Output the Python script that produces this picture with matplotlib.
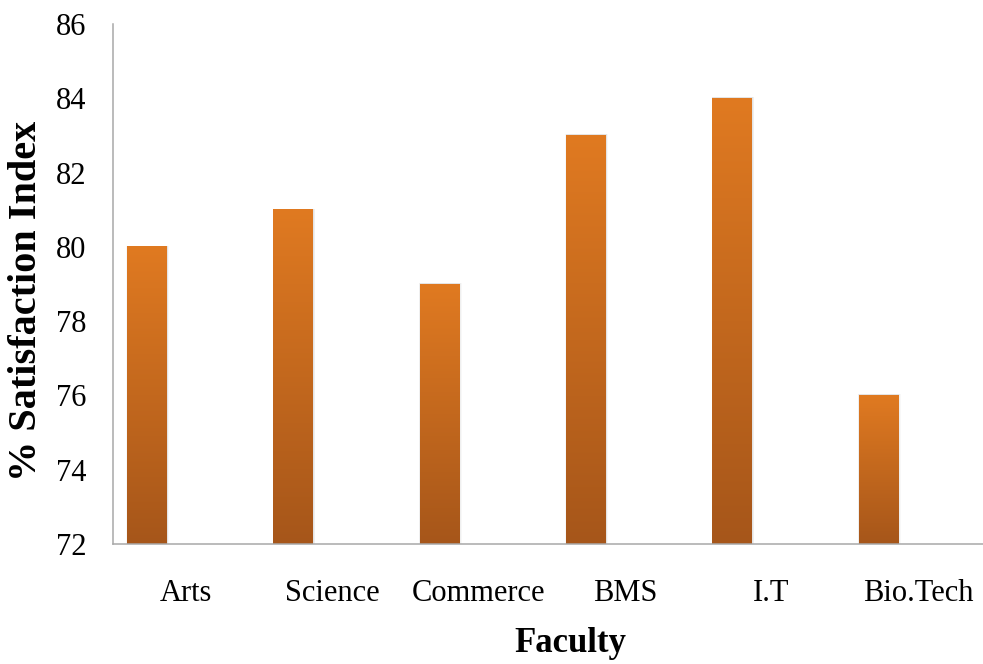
import matplotlib.pyplot as plt
import numpy as np
from matplotlib.colors import LinearSegmentedColormap

# ===================== 数据 =====================
faculties = ["Arts", "Science", "Commerce", "BMS", "I.T", "Bio.Tech"]
satisfaction = [80, 81, 79, 83, 84, 76]
y_ticks = [72, 74, 76, 78, 80, 82, 84, 86]
# ===============================================

plt.rcParams["font.family"] = ["Liberation Serif", "DejaVu Serif"]

fig = plt.figure(figsize=(9.83, 6.64), dpi=100)
ax = fig.add_axes([113 / 983, 120 / 664, 878 / 983, 520 / 664])

ymin, ymax = y_ticks[0], y_ticks[-1]

# 渐变色：顶部亮橙，底部深橙
grad_cmap = LinearSegmentedColormap.from_list("orange_grad", ["#A6561A", "#E07A21"])
gradient = np.linspace(0, 1, 256).reshape(-1, 1)

bar_w = 0.273
offset = -0.267
for i, v in enumerate(satisfaction):
    x0 = i + offset - bar_w / 2
    x1 = x0 + bar_w
    # 柔和阴影
    for k, a in zip([0.02, 0.012, 0.006], [0.06, 0.08, 0.10]):
        ax.add_patch(plt.Rectangle((x0 - k * 0.3, ymin), bar_w + k, v - ymin + 0.03,
                                   facecolor="#888888", edgecolor="none", alpha=a, zorder=1))
    ax.imshow(gradient, extent=[x0, x1, ymin, v], origin="lower",
              cmap=grad_cmap, aspect="auto", zorder=2, interpolation="bicubic")

ax.set_xlim(-0.5, len(faculties) - 0.5)
ax.set_ylim(ymin, ymax)

ax.set_xticks(range(len(faculties)))
ax.set_xticklabels(faculties, fontsize=22)
ax.set_yticks(y_ticks)
ax.set_yticklabels([str(t) for t in y_ticks], fontsize=22)
ax.tick_params(axis="both", length=0)
ax.tick_params(axis="y", pad=19)
ax.tick_params(axis="x", pad=25)

for s in ["top", "right"]:
    ax.spines[s].set_visible(False)
for s in ["left", "bottom"]:
    ax.spines[s].set_color("#A8A8A8")
    ax.spines[s].set_linewidth(1.1)

ax.set_ylabel("% Satisfaction Index", fontsize=29, fontweight="bold", va="center")
ax.yaxis.set_label_coords(-86 / 878, (544 - 301) / 520)
ax.set_xlabel("Faculty", fontsize=25, fontweight="bold", va="center")
ax.xaxis.set_label_coords((570 - 113) / 878, (544 - 643) / 520)

fig.savefig("out.png", dpi=100)
